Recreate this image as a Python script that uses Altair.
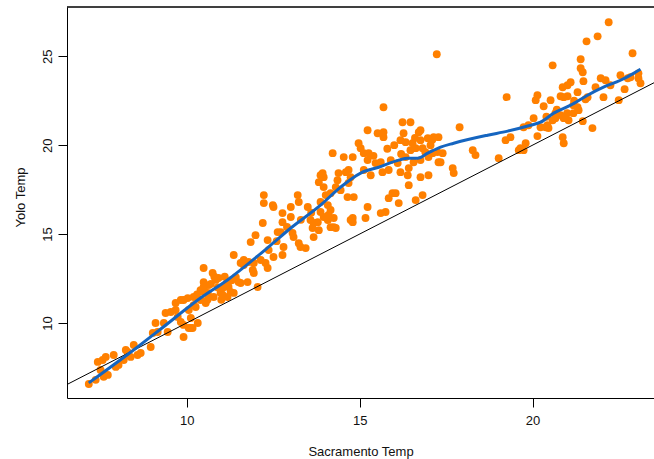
import altair as alt
import pandas as pd

# Daily mean temperatures (deg C): Sacramento vs. Yolo, grouped by temperature band
sac_cold = [7.17, 7.37, 7.43, 7.57, 7.66, 7.60, 7.72, 7.51, 7.89, 7.95, 8.03, 8.18, 8.24, 8.29,
            8.38, 8.47, 8.58, 8.67, 8.96, 9.02, 9.16, 9.34, 9.45, 9.54, 9.68, 9.83, 9.91, 10.06,
            10.17, 10.32, 9.74, 9.91, 10.20, 10.40, 10.49, 10.61, 10.78, 10.98, 11.18, 11.36,
            11.56, 12.05]
yolo_cold = [6.57, 6.80, 7.81, 7.92, 8.09, 6.97, 7.08, 7.36, 8.20, 7.53, 7.64, 7.92, 8.48, 8.37,
             8.09, 8.76, 8.20, 8.31, 8.65, 9.44, 9.49, 10.00, 9.49, 10.62, 11.12, 10.06, 9.21, 9.72,
             9.72, 10.00, 10.34, 11.29, 11.46, 11.85, 12.02, 11.69, 11.46, 11.69, 12.25, 11.69,
             12.25, 12.02]

sac_cool = [9.10, 9.39, 9.68, 9.83, 10.03, 10.06, 10.12, 10.26, 10.40, 10.49, 10.55, 10.49, 10.64,
            10.64, 10.75, 10.84, 10.92, 10.49, 11.04, 11.04, 11.21, 11.27, 11.18, 11.36, 11.42,
            11.50, 11.56, 11.65, 11.76, 11.79, 11.91, 11.94, 11.85, 11.99, 12.20, 12.14, 12.28,
            12.34, 12.34, 12.37, 10.12, 9.91,
            10.30, 10.50, 10.70, 10.90, 11.10, 10.20, 10.60, 10.80, 11.30, 11.00]
yolo_cool = [10.00, 10.56, 10.73, 11.29, 11.40, 10.73, 10.28, 10.90, 11.29, 11.74, 11.12, 12.30,
             12.13, 11.46, 12.81, 12.42, 12.53, 13.09, 11.97, 11.57, 12.02, 11.74, 11.46, 13.82,
             12.58, 12.30, 13.37, 13.26, 12.30, 13.43, 12.98, 12.81, 14.55, 14.94, 15.62, 13.54,
             13.37, 14.66, 13.09, 14.10, 9.72, 9.89,
             11.60, 11.90, 12.20, 12.00, 12.60, 11.00, 11.30, 12.60, 12.40, 11.30]

sac_mild = [11.65, 11.94, 12.23, 12.23, 12.49, 12.51, 12.51, 12.77, 12.77, 13.01, 13.01, 12.63,
            12.72, 12.80, 12.77, 13.06, 13.09, 13.21, 13.24, 13.24, 13.29, 13.50, 13.44, 13.58,
            13.67, 13.67, 13.82, 13.79, 13.87, 13.82, 13.96, 14.02, 14.08, 14.10, 14.16, 14.08,
            14.25, 14.31, 14.22, 14.39, 14.54, 14.60, 14.68, 14.74, 13.87, 13.96, 13.64, 14.31,
            12.90, 13.30, 13.60, 12.60]
yolo_mild = [13.54, 13.37, 16.74, 17.19, 16.63, 16.52, 13.71, 16.18, 15.67, 16.52, 15.96, 15.11,
             15.11, 14.27, 13.82, 15.06, 14.83, 17.19, 16.80, 14.49, 14.27, 16.52, 14.21, 15.79,
             15.62, 14.83, 15.22, 15.67, 18.31, 17.92, 17.64, 17.19, 16.63, 16.07, 15.39, 15.79,
             15.90, 15.34, 19.55, 18.43, 19.33, 18.48, 17.87, 15.79, 16.24, 18.20, 15.34, 17.64,
             15.40, 15.80, 16.20, 14.60]

sac_warm = [15.69, 16.24, 16.47, 15.23, 15.52, 15.69, 15.69, 16.27, 16.71, 14.97, 15.03, 16.18,
            16.33, 16.53, 16.76, 16.97, 17.14, 17.28,
            14.80, 15.12, 15.26, 15.23, 15.46, 15.61, 15.90, 16.10, 16.33, 16.47, 16.62, 16.82,
            17.05, 16.99, 17.25, 17.28, 16.56, 16.42, 16.76,
            14.68, 14.74, 14.36, 14.16, 14.45, 14.65, 14.83, 15.12, 15.32, 15.66, 15.84, 16.18,
            16.39, 16.42, 16.76, 16.99,
            15.95, 16.04, 15.84, 16.13, 16.62, 16.82, 15.23, 15.61, 15.75, 14.80, 14.80, 15.17,
            14.25, 13.93, 13.96, 14.16, 13.87,
            15.80, 16.00, 16.60, 16.90, 17.10, 16.20, 15.40]
yolo_warm = [22.13, 21.29, 21.29, 20.84, 20.67, 20.73, 20.45, 20.67, 20.73, 20.11, 19.83, 20.28,
             20.17, 20.11, 20.28, 20.39, 20.45, 20.45,
             19.33, 19.55, 19.55, 19.16, 18.99, 19.04, 19.16, 18.99, 19.33, 19.72, 19.83, 19.83,
             20.00, 19.33, 19.61, 19.04, 19.04, 18.71, 19.16,
             18.60, 18.20, 18.03, 17.30, 17.47, 17.08, 17.08, 18.60, 18.31, 18.48, 18.60, 18.48,
             18.31, 17.75, 18.20, 18.31,
             17.30, 17.30, 17.02, 16.74, 16.91, 17.19, 16.52, 16.18, 16.24, 15.90, 15.67, 15.90,
             15.39, 18.43, 15.96, 16.35, 16.80,
             19.80, 20.00, 20.40, 19.60, 20.30, 19.50, 19.40]

sac_hot = [17.23, 19.25, 17.89, 16.76, 17.11, 17.40, 17.34, 17.69, 17.72, 18.27, 18.35, 19.02,
           19.22, 19.36, 19.74, 19.60, 19.74, 19.80]
yolo_hot = [25.11, 22.70, 21.01, 20.84, 19.55, 19.55, 19.04, 18.71, 18.43, 19.72, 19.44, 19.27,
            20.28, 20.45, 21.01, 19.72, 19.72, 20.11]

sac_peak = [22.20, 21.88, 21.56, 22.89, 20.58, 21.39, 21.39, 21.45, 21.47, 21.97, 22.11, 22.25,
            22.54, 22.75, 22.83, 23.06, 23.06, 23.12, 22.66, 22.49, 22.05, 21.82, 21.59, 21.53,
            21.30, 21.10, 21.01, 20.87, 20.90, 21.01, 20.81, 20.52, 20.09, 20.14, 20.32, 21.18,
            21.30, 21.33, 21.18, 20.66, 20.81, 20.90, 21.04, 20.58, 20.66, 20.03, 19.88, 20.23,
            20.43, 20.46, 20.38, 21.45, 21.73, 20.14, 20.87, 20.90, 19.65,
            20.70, 21.00, 21.20, 20.40]
yolo_peak = [26.91, 26.12, 25.84, 25.17, 24.49, 24.83, 24.33, 24.10, 23.60, 23.76, 23.65, 23.37,
             23.93, 23.76, 23.82, 24.04, 23.76, 23.48, 23.15, 22.53, 22.70, 23.26, 22.70, 22.58,
             22.98, 23.54, 23.37, 23.26, 22.70, 22.75, 22.75, 22.53, 22.53, 22.81, 22.19, 22.25,
             22.13, 21.97, 21.80, 21.80, 21.69, 21.52, 21.40, 21.40, 21.52, 21.52, 21.12, 21.01,
             21.12, 20.96, 21.01, 21.35, 20.96, 20.51, 20.45, 20.11, 19.83,
             22.00, 21.80, 22.50, 21.60]

# Smoothed trend through the scatter
smooth_sac = [7.17, 8.58, 9.25, 10.40, 11.18, 12.43, 13.01, 13.87, 14.45, 15.03, 15.55, 16.13,
              16.39, 16.68, 16.97, 17.34, 17.72, 18.70, 19.28, 19.94, 20.23, 20.61, 21.10, 21.59,
              22.05, 22.54, 22.92, 23.12]
smooth_yolo = [6.63, 8.65, 9.66, 11.40, 12.42, 14.38, 15.34, 16.63, 17.64, 18.43, 18.76, 19.16,
               19.27, 19.27, 19.55, 19.89, 20.11, 20.56, 20.79, 21.12, 21.29, 21.80, 22.25, 22.81,
               23.26, 23.65, 24.04, 24.27]

x_ticks = [10, 15, 20]
y_ticks = [10, 15, 20, 25]
x_domain = [6.54, 23.51]
y_domain = [5.78, 27.77]

sac = sac_cold + sac_cool + sac_mild + sac_warm + sac_hot + sac_peak
yolo = yolo_cold + yolo_cool + yolo_mild + yolo_warm + yolo_hot + yolo_peak
assert len(sac) == len(yolo)

points = pd.DataFrame({"sac": sac, "yolo": yolo})
smooth = pd.DataFrame({"sac": smooth_sac, "yolo": smooth_yolo})
identity = pd.DataFrame({"sac": x_domain, "yolo": x_domain})

FONT = "Liberation Sans"
W, H = 587, 391

x_enc = alt.X(
    "sac:Q",
    scale=alt.Scale(domain=x_domain, nice=False, zero=False),
    axis=alt.Axis(
        values=x_ticks, title="Sacramento Temp", grid=False,
        domainColor="black", domainWidth=1, tickColor="black", tickSize=9, tickWidth=1,
        labelFont=FONT, labelFontSize=13, labelColor="#111", labelPadding=7,
        titleFont=FONT, titleFontSize=13, titleFontWeight="normal", titleColor="#111",
        titleY=53, titleBaseline="middle",
    ),
)
y_enc = alt.Y(
    "yolo:Q",
    scale=alt.Scale(domain=y_domain, nice=False, zero=False),
    axis=alt.Axis(
        values=y_ticks, title="Yolo Temp", grid=False,
        domainColor="black", domainWidth=1, tickColor="black", tickSize=9, tickWidth=1,
        labelFont=FONT, labelFontSize=13, labelColor="#111", labelAngle=270,
        labelAlign="center", labelBaseline="bottom", labelPadding=4,
        titleFont=FONT, titleFontSize=13, titleFontWeight="normal", titleColor="#111",
        titleAngle=270, titleX=-47, titleY=190, titleAlign="center", titleBaseline="middle",
    ),
)

scatter = alt.Chart(points).mark_circle(size=62, color="#FF8000", opacity=1).encode(x=x_enc, y=y_enc)

one_to_one = alt.Chart(identity).mark_line(color="black", strokeWidth=1, clip=True).encode(
    x="sac:Q", y="yolo:Q"
)

trend = alt.Chart(smooth).mark_line(color="#1565C0", strokeWidth=3, interpolate="monotone").encode(
    x="sac:Q", y="yolo:Q"
)

top_border = alt.Chart(identity).mark_rule(color="black", strokeWidth=1).encode(
    x=alt.value(0), x2=alt.value(W), y=alt.value(0)
)

chart = (
    alt.layer(scatter, one_to_one, trend, top_border)
    .properties(
        width=W, height=H,
        autosize=alt.AutoSizeParams(type="none"),
        padding={"left": 67, "top": 7, "right": 0, "bottom": 61},
        background="white",
    )
    .configure_view(stroke=None)
)

chart.save("out.html", embed_options={"renderer": "svg", "actions": False})
